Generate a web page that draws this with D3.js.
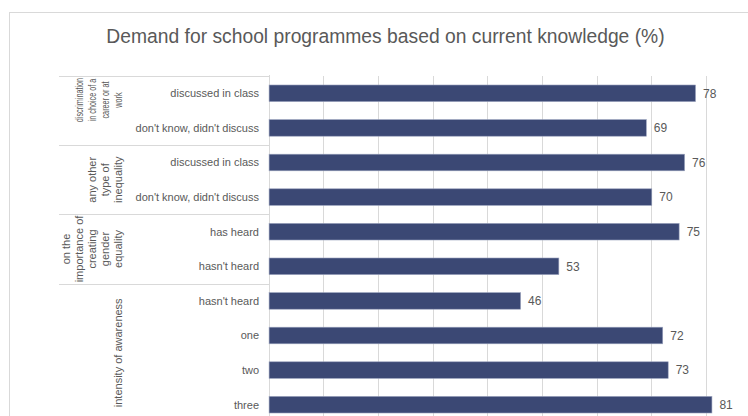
<!DOCTYPE html>
<html>
<head>
<meta charset="utf-8">
<script src="https://cdn.jsdelivr.net/npm/d3@7"></script>
<style>
  body { margin: 0; background: #fff; }
  svg { display: block; font-family: "Liberation Sans", Arial, sans-serif; }
</style>
</head>
<body>
<div id="chart"></div>
<script>
// data
categories = ["discussed in class", "don't know, didn't discuss",
              "discussed in class", "don't know, didn't discuss",
              "has heard", "hasn't heard",
              "hasn't heard", "one", "two", "three"];
values = [78, 69, 76, 70, 75, 53, 46, 72, 73, 81];
groupNames = [
    ["discrimination", "in choice of a", "career or at", "work"],
    ["any other", "type of", "inequality"],
    ["on the", "importance of", "creating", "gender", "equality"],
    ["intensity of awareness"]
];
groupSizes = [2, 2, 2, 4];
xTicks = [10, 20, 30, 40, 50, 60, 70, 80, 90];

chartTitle = "Demand for school programmes based on current knowledge (%)";
width = 748;
height = 416;
plotLeft = 268.6;
plotTop = 76;
plotBottom = 422;
barColour = "#3b4874";
textColour = "#595959";
lineColour = "#d9d9d9";

svg = d3.select("#chart").append("svg")
    .attr("width", width)
    .attr("height", height);

// outer chart frame, runs off the right and bottom
svg.append("rect")
    .attr("x", 9.5)
    .attr("y", 12.5)
    .attr("width", 760)
    .attr("height", 430)
    .attr("fill", "#fff")
    .attr("stroke", lineColour);

svg.append("text")
    .attr("x", 385.5)
    .attr("y", 42.5)
    .attr("text-anchor", "middle")
    .attr("fill", textColour)
    .style("font-size", "19.3px")
    .text(chartTitle);

x = d3.scaleLinear()
    .domain([0, 90])
    .range([plotLeft, plotLeft + 5.467 * 90]);

rows = d3.range(values.length);
y = d3.scaleBand()
    .domain(rows)
    .range([plotTop, plotBottom])
    .paddingInner(0.52)
    .paddingOuter(0.26);

// gridlines
svg.append("g")
    .selectAll("line")
    .data(xTicks).enter()
    .append("line")
    .attr("x1", (d) => Math.round(x(d)) + 0.5)
    .attr("x2", (d) => Math.round(x(d)) + 0.5)
    .attr("y1", plotTop)
    .attr("y2", plotBottom)
    .attr("stroke", lineColour)
    .attr("stroke-width", 1);

// category axis line
svg.append("line")
    .attr("x1", Math.round(plotLeft) + 0.5)
    .attr("x2", Math.round(plotLeft) + 0.5)
    .attr("y1", plotTop - 1)
    .attr("y2", plotBottom)
    .attr("stroke", lineColour);

// bars
svg.append("g")
    .selectAll("rect")
    .data(values).enter()
    .append("rect")
    .attr("x", x(0) + 0.5)
    .attr("y", (d, i) => y(i))
    .attr("width", (d) => x(d) - x(0))
    .attr("height", y.bandwidth())
    .attr("fill", barColour)
    .attr("stroke", "#9aa2bd")
    .attr("stroke-width", 0.6);

// value labels
svg.append("g")
    .selectAll("text")
    .data(values).enter()
    .append("text")
    .attr("x", (d) => x(d) + 8)
    .attr("y", (d, i) => y(i) + y.bandwidth() / 2)
    .attr("dy", "0.35em")
    .attr("fill", textColour)
    .style("font-size", "12px")
    .text((d) => d);

// inner category labels
svg.append("g")
    .selectAll("text")
    .data(categories).enter()
    .append("text")
    .attr("x", 259)
    .attr("y", (d, i) => y(i) + y.bandwidth() / 2)
    .attr("dy", "0.35em")
    .attr("text-anchor", "end")
    .attr("fill", textColour)
    .style("font-size", "11px")
    .text((d) => d);

// group separators and rotated group labels
var step = y.step();
var start = 0;
groupNames.forEach((lines, gi) => {
    var gTop = plotTop + start * step;
    var gBottom = plotTop + (start + groupSizes[gi]) * step;
    svg.append("line")
        .attr("x1", 59)
        .attr("x2", Math.round(plotLeft))
        .attr("y1", Math.round(gTop) + 0.5)
        .attr("y2", Math.round(gTop) + 0.5)
        .attr("stroke", lineColour);
    // first group's text is squeezed along its length in the original
    var squeeze = gi == 0 ? 0.66 : 1;
    var cy = gi == 0 ? gTop + 24 : (gTop + gBottom) / 2;
    lines.forEach((ln, li) => {
        var cx = 118 - (lines.length - 1 - li) * 13;
        svg.append("text")
            .attr("transform", "translate(" + cx + "," + cy + ") rotate(-90) scale(" + squeeze + ",1)")
            .attr("text-anchor", "middle")
            .attr("dy", "0.35em")
            .attr("fill", textColour)
            .style("font-size", "11px")
            .text(ln);
    });
    start += groupSizes[gi];
});
</script>
</body>
</html>
